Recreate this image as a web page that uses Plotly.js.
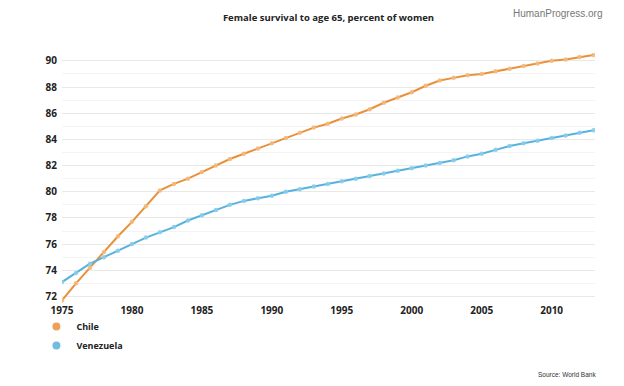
<!DOCTYPE html>
<html>
<head>
<meta charset="utf-8">
<script src="https://cdn.plot.ly/plotly-3.0.1.min.js"></script>
<style>html,body{margin:0;padding:0;background:#fff;}#chart{width:624px;height:386px;}</style>
</head>
<body>
<div id="chart"></div>
<script>
const years = [1975,1976,1977,1978,1979,1980,1981,1982,1983,1984,1985,1986,1987,1988,1989,1990,1991,1992,1993,1994,1995,1996,1997,1998,1999,2000,2001,2002,2003,2004,2005,2006,2007,2008,2009,2010,2011,2012,2013];
const chile = [71.7,73.0,74.2,75.4,76.6,77.7,78.9,80.1,80.6,81.0,81.5,82.0,82.5,82.9,83.3,83.7,84.1,84.5,84.9,85.2,85.6,85.9,86.3,86.8,87.2,87.6,88.1,88.5,88.7,88.9,89.0,89.2,89.4,89.6,89.8,90.0,90.1,90.3,90.45];
const venezuela = [73.1,73.8,74.5,75.0,75.5,76.0,76.5,76.9,77.3,77.8,78.2,78.6,79.0,79.3,79.5,79.7,80.0,80.2,80.4,80.6,80.8,81.0,81.2,81.4,81.6,81.8,82.0,82.2,82.4,82.7,82.9,83.2,83.5,83.7,83.9,84.1,84.3,84.5,84.7];
const seriesNames = ['Chile','Venezuela'];
const colors = ['#e8913a','#58b2dc'];
const markerColors = ['rgba(244,185,125,0.9)','rgba(135,205,235,0.9)'];
const yTicks = [72,74,76,78,80,82,84,86,88,90];
const xTicks = [1975,1980,1985,1990,1995,2000,2005,2010];

const font = 'Open Sans, Noto Sans, sans-serif';
const traces = [];
[chile, venezuela].forEach((vals, i) => {
  traces.push({
    x: years, y: vals, type: 'scatter', mode: 'lines+markers',
    line: {color: colors[i], width: 2},
    marker: {color: markerColors[i], size: 4.5},
    showlegend: false, hoverinfo: 'skip'
  });
});
seriesNames.forEach((n, i) => {
  traces.push({x:[null], y:[null], type:'scatter', mode:'markers', name:n,
    marker:{color: colors[i], size: 8, opacity: 0.85}});
});

const layout = {
  width: 624, height: 386,
  margin: {l: 62, r: 29, t: 53, b: 83},
  paper_bgcolor: '#fff', plot_bgcolor: '#fff',
  font: {family: font, color: '#222'},
  title: {text: 'Female survival to age 65, percent of women', x: 0.5, xref: 'paper', y: 0.955, yanchor: 'middle',
    font: {family: font, size: 9.5, weight: 'bold', color: '#222'}},
  xaxis: {range: [1975, 2013.1], tickvals: xTicks, showgrid: false, zeroline: false, showline: false,
    ticks: '', tickfont: {family: font, size: 10, weight: 'bold', color: '#222'}, fixedrange: true},
  yaxis: {range: [71.5, 90.6], tickvals: yTicks, showgrid: true, gridcolor: '#e8e8e8', gridwidth: 1,
    zeroline: false, showline: false, ticks: '', ticklabelstandoff: 4,
    minor: {dtick: 1, tick0: 71, showgrid: true, gridcolor: '#f4f4f4', gridwidth: 1},
    tickfont: {family: font, size: 10, weight: 'bold', color: '#222'}, fixedrange: true},
  legend: {x: -0.048, xanchor: 'left', y: -0.036, yanchor: 'top', orientation: 'v',
    font: {family: font, size: 9, weight: 'bold', color: '#222'}, itemwidth: 30, tracegroupgap: 0,
    bgcolor: 'rgba(0,0,0,0)'},
  annotations: [
    {text: 'HumanProgress.org', xref: 'paper', yref: 'paper', x: 1.017, y: 1.16, xanchor: 'right', yanchor: 'middle',
      showarrow: false, font: {family: 'Liberation Sans, Arial, sans-serif', size: 10, color: '#777'}},
    {text: 'Source: World Bank', xref: 'paper', yref: 'paper', x: 1.005, y: -0.284, xanchor: 'right', yanchor: 'middle',
      showarrow: false, font: {family: 'Liberation Sans, Arial, sans-serif', size: 6.5, color: '#333'}}
  ]
};
Plotly.newPlot('chart', traces, layout, {displayModeBar: false, staticPlot: true});
</script>
</body>
</html>
